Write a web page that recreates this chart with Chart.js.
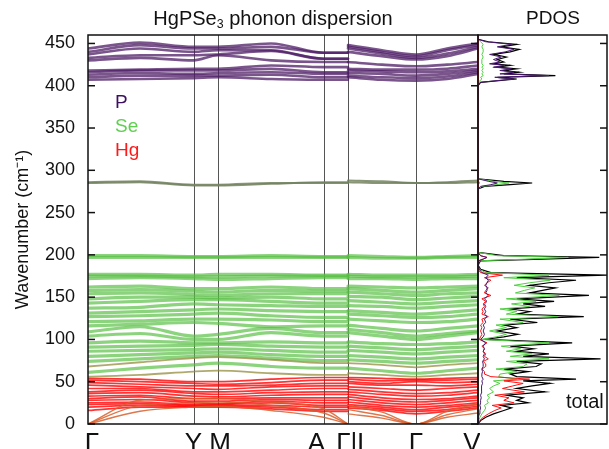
<!DOCTYPE html>
<html><head><meta charset="utf-8">
<script src="https://cdn.jsdelivr.net/npm/chart.js@4.4.1/dist/chart.umd.min.js"></script>
<style>
html,body{margin:0;padding:0;background:#fff;overflow:hidden;width:609px;height:449px;}
#c1{position:absolute;left:0;top:0;}
#c2{position:absolute;left:470px;top:0;}
.t{position:absolute;font-family:"Liberation Sans",Arial,sans-serif;white-space:nowrap;line-height:1;color:#111;}
.t sub{font-size:62%;vertical-align:-0.25em;line-height:0;}
</style></head><body>
<canvas id="c1" width="480" height="449"></canvas>
<canvas id="c2" width="139" height="449"></canvas>
<div class="t" style="left:273px;top:8px;font-size:20px;transform:translateX(-50%);">HgPSe<sub>3</sub> phonon dispersion</div>
<div class="t" style="left:553px;top:8px;font-size:19px;transform:translateX(-50%);">PDOS</div>
<div class="t" style="left:115px;top:92px;font-size:19px;color:#3d1060;">P</div>
<div class="t" style="left:115px;top:116px;font-size:19px;color:#5fcf50;">Se</div>
<div class="t" style="left:115px;top:140px;font-size:19px;color:#ff1a1a;">Hg</div>
<div class="t" style="left:566px;top:391px;font-size:20px;">total</div>
<script>
const FONT = '"Liberation Sans", Arial, sans-serif';
// high-symmetry path
const kPos = [0, 105.5, 130, 235.5, 260, 328, 390];
const kLabels = ['Γ', 'Y', 'M', 'A', 'Γ|L', 'Γ', 'V'];
const kLeft = [0, 52, 105.5, 130, 183, 235.5, 260];
const kRight = [260, 294, 328, 359, 390];
const yTicks = [0, 50, 100, 150, 200, 250, 300, 350, 400, 450];

// bands: 7 values on Γ-Y-M-A-Γ, then 5 values on L-Γ-V (cm^-1)
const bandsP = [
  [444,451,446,446,450,439,439, 448,442,437,444,450],
  [440,448,444,444,446,439,439, 446,440,435,442,448],
  [437,444,440,442,442,432,432, 444,438,433,438,446],
  [433,436,436,437,441,432,432, 440,435,431,435,444],
  [430,433,430,436,430,428,428, 428,425,423,425,428],
  [418,419,420,420,424,422,422, 420,419,419,420,424],
  [416,418,418,418,420,416,416, 418,417,416,417,420],
  [413,415,414,415,416,414,414, 415,414,412,414,418],
  [410,412,412,412,413,410,410, 412,410,409,411,416],
  [407,408,409,410,408,407,407, 410,407,406,408,414]
];
const bandsMix = [
  [285,286,282,282,284,286,286, 288,287,285,286,288],
  [286,287,283,283,285,285,285, 286,285,285,285,286]
];
const bandsSe = [
  [199,199,198,198,199,198,198, 199,198,197,198,199],
  [197,197,197,197,197,197,197, 197,196,196,197,197],
  [177,177,176,177,177,176,176, 177,176,176,176,177],
  [175,175,174,174,175,175,175, 175,174,174,174,175],
  [172,173,172,171,172,173,173, 172,172,171,172,172],
  [162,163,160,160,162,160,160, 163,162,161,162,163],
  [158,159,157,156,158,157,157, 160,158,156,158,160],
  [154,155,153,152,154,154,154, 156,154,152,154,155],
  [148,150,150,149,150,148,148, 151,150,147,149,151],
  [143,145,147,147,145,143,143, 146,144,142,144,146],
  [137,138,142,141,140,139,139, 140,139,137,139,141],
  [131,133,135,136,134,133,133, 134,132,130,132,135],
  [127,128,130,131,128,126,126, 130,128,126,127,130],
  [121,122,124,124,123,121,121, 124,122,120,121,124],
  [116,118,120,119,115,116,116, 117,113,110,113,116],
  [109,115,104,106,113,108,108, 112,108,104,107,110],
  [104,107,100,100,108,104,104, 108,104,100,104,108],
  [96,98,96,96,97,96,96, 97,95,94,95,97],
  [91,92,93,94,92,91,91, 92,90,88,90,92],
  [86,87,88,89,87,85,85, 87,85,83,85,87],
  [80,82,84,85,82,80,80, 81,79,77,79,81],
  [74,77,80,81,78,75,75, 76,74,72,74,76],
  [61,66,70,72,68,66,66, 66,63,60,63,66]
];
const bandsOlive = [
  [68,73,78,79,76,72,72, 72,70,67,70,72],
  [56,58,62,63,60,58,58, 60,58,56,58,60]
];
const bandsHg = [
  [54,53,50,50,53,55,55, 55,54,53,54,55],
  [52,50,48,47,49,52,52, 53,51,52,52,53],
  [49,47,45,45,46,48,48, 50,48,50,49,50],
  [46,44,42,41,44,45,45, 48,46,46,45,47],
  [42,42,38,38,40,42,42, 44,42,40,42,44],
  [38,40,36,35,37,38,38, 41,38,36,37,40],
  [36,37,33,32,34,35,35, 38,35,33,34,37],
  [33,34,30,30,31,31,31, 35,31,29,30,33],
  [30,32,27,27,29,28,28, 32,28,26,28,31],
  [28,29,25,24,27,25,25, 29,25,23,25,28],
  [25,26,23,23,25,22,22, 26,22,20,22,25],
  [23,24,22,22,22,20,20, 23,20,17,20,23],
  [20,22,21,21,20,17,17, 21,18,15,17,21],
  [16,20,20,20,18,15,15, 19,16,12,15,19]
];
const bandsAcoustic = [
  [0,28,30,30,26,18,0, 22,14,0,15,24],
  [0,22,25,26,22,13,0, 17,10,0,11,18],
  [0,15,20,21,16,8,0, 12,7,0,8,13]
];

// PDOS (arb. units) on frequency grid (cm^-1)
const dosFreq = [0,4,8,12,16,19,22,25,28,31,34,38,42,45,48,51,53,56,59,62,65,68,71,74,77,80,83,86,89,92,96,100,103,106,110,114,117,120,124,127,130,133,136,139,142,145,148,152,155,158,161,164,167,170,173,176,179,183,188,193,195,197,199,203,210,278,281,283,285,287,290,300,400,404,408,410,412,414,416,418,420,422,424,426,428,431,434,437,440,443,446,449,452,455,460];
const dosTotal = [0,0.02,0.06,0.12,0.20,0.26,0.18,0.39,0.30,0.35,0.22,0.52,0.30,0.42,0.56,0.35,0.76,0.30,0.25,0.39,0.20,0.45,0.49,0.30,0.95,0.35,0.55,0.30,0.43,0.25,0.73,0.05,0.20,0.31,0.15,0.30,0.20,0.46,0.25,0.82,0.30,0.40,0.25,0.52,0.35,0.59,0.30,0.86,0.40,0.50,0.60,0.40,0.55,0.76,0.30,1.00,0.10,0.02,0,0.02,0.50,0.94,0.20,0,0,0,0.05,0.25,0.42,0.20,0,0,0,0.02,0.30,0.15,0.60,0.20,0.32,0.20,0.30,0.15,0.25,0.12,0.20,0.15,0.22,0.12,0.25,0.32,0.18,0.30,0.08,0,0];
const dosP = [0,0.002,0.005,0.01,0.015,0.02,0.015,0.02,0.02,0.025,0.02,0.03,0.025,0.03,0.035,0.03,0.04,0.03,0.03,0.035,0.03,0.04,0.04,0.035,0.05,0.04,0.05,0.04,0.05,0.04,0.06,0.02,0.04,0.05,0.04,0.05,0.04,0.06,0.05,0.07,0.05,0.06,0.05,0.06,0.05,0.07,0.05,0.08,0.06,0.07,0.07,0.06,0.07,0.08,0.06,0.08,0.03,0.01,0,0.005,0.04,0.07,0.02,0,0,0,0.02,0.10,0.15,0.08,0,0,0,0.018,0.27,0.13,0.55,0.17,0.28,0.17,0.26,0.12,0.21,0.09,0.17,0.12,0.18,0.09,0.21,0.28,0.15,0.26,0.06,0,0];
const dosSe = [0,0.005,0.015,0.03,0.05,0.06,0.05,0.08,0.07,0.09,0.07,0.12,0.09,0.12,0.17,0.12,0.30,0.16,0.17,0.30,0.14,0.35,0.38,0.22,0.55,0.25,0.42,0.22,0.33,0.18,0.55,0.02,0.14,0.22,0.09,0.22,0.14,0.35,0.17,0.62,0.22,0.30,0.17,0.40,0.26,0.45,0.22,0.63,0.29,0.36,0.44,0.28,0.40,0.56,0.20,0.55,0.06,0.01,0,0.01,0.38,0.70,0.15,0,0,0,0.03,0.14,0.24,0.11,0,0,0,0.002,0.03,0.02,0.04,0.03,0.04,0.03,0.04,0.03,0.04,0.03,0.03,0.03,0.04,0.03,0.04,0.04,0.03,0.04,0.02,0,0];
const dosHg = [0,0.013,0.04,0.08,0.13,0.18,0.11,0.28,0.20,0.24,0.13,0.36,0.19,0.27,0.35,0.20,0.40,0.10,0.05,0.05,0.03,0.06,0.06,0.04,0.08,0.05,0.06,0.04,0.05,0.03,0.07,0.01,0.02,0.03,0.02,0.03,0.02,0.04,0.03,0.08,0.03,0.04,0.03,0.05,0.04,0.06,0.03,0.10,0.05,0.06,0.08,0.05,0.07,0.10,0.05,0.19,0.02,0,0,0.005,0.04,0.07,0.02,0,0,0,0.002,0.005,0.01,0.005,0,0,0,0,0.003,0.002,0.005,0.003,0.003,0.002,0.003,0.002,0.003,0.002,0.003,0.002,0.003,0.002,0.003,0.003,0.002,0.003,0.001,0,0];

// ---------- dispersion chart ----------
const ds1 = [];
function addBands(list, color, width) {
  list.forEach(b => {
    const common = {showLine:true, borderColor:color, borderWidth:width, pointRadius:0,
      cubicInterpolationMode:'monotone', fill:false, borderCapStyle:'round'};
    ds1.push(Object.assign({data: kLeft.map((x,i)=>({x, y:b[i]}))}, common));
    ds1.push(Object.assign({data: kRight.map((x,i)=>({x, y:b[7+i]}))}, common));
  });
}
addBands(bandsP, 'rgba(78,28,102,0.75)', 2.6);
addBands(bandsMix, 'rgba(115,130,95,0.85)', 2);
addBands(bandsAcoustic, 'rgba(215,95,45,0.85)', 1.4);
addBands(bandsHg, 'rgba(255,0,0,0.8)', 1.7);
addBands(bandsOlive, 'rgba(150,140,60,0.75)', 1.8);
addBands(bandsSe, 'rgba(85,190,65,0.68)', 3.2);

const labelShift = [4, 0, 2, -7, 6, 0, -6];
const framePlugin = {
  id:'frame',
  beforeDatasetsDraw(chart) {
    const {ctx, chartArea:a, scales:{x}} = chart;
    ctx.save();
    ctx.strokeStyle = '#555'; ctx.lineWidth = 1;
    for (let i = 1; i < kPos.length - 1; i++) {
      const px = Math.round(x.getPixelForValue(kPos[i])) + 0.5;
      ctx.beginPath(); ctx.moveTo(px, a.top); ctx.lineTo(px, a.bottom); ctx.stroke();
    }
    ctx.restore();
  },
  afterDraw(chart) {
    const {ctx, chartArea:a, scales:{x, y}} = chart;
    ctx.save();
    ctx.strokeStyle = '#111'; ctx.lineWidth = 1.5;
    ctx.strokeRect(a.left, a.top, a.right - a.left, a.bottom - a.top);
    yTicks.forEach(v => {
      const py = y.getPixelForValue(v);
      ctx.beginPath(); ctx.moveTo(a.left, py); ctx.lineTo(a.left + 7, py); ctx.stroke();
      ctx.beginPath(); ctx.moveTo(a.right, py); ctx.lineTo(a.right - 7, py); ctx.stroke();
    });
    ctx.fillStyle = '#111';
    ctx.font = '26px ' + FONT;
    ctx.textAlign = 'center'; ctx.textBaseline = 'alphabetic';
    kPos.forEach((v, i) => {
      ctx.fillText(kLabels[i], x.getPixelForValue(v) + labelShift[i], 451);
    });
    ctx.restore();
  }
};

new Chart(document.getElementById('c1'), {
  type:'scatter',
  data:{datasets: ds1},
  options:{
    responsive:false, animation:false,
    layout:{padding:{top:35, right:2, left:0, bottom:0}},
    plugins:{legend:{display:false}, tooltip:{enabled:false}},
    scales:{
      x:{type:'linear', min:0, max:390,
        afterBuildTicks:s => { s.ticks = kPos.map(v => ({value:v})); },
        afterFit:s => { s.height = 25; },
        ticks:{display:false}, grid:{display:false, drawTicks:false}, border:{display:false}},
      y:{type:'linear', min:0, max:460,
        afterBuildTicks:s => { s.ticks = yTicks.map(v => ({value:v})); },
        afterFit:s => { s.width = 88; },
        ticks:{font:{size:18, family:FONT}, color:'#111', padding:13},
        grid:{display:false, drawTicks:false}, border:{display:false},
        title:{display:true, text:'Wavenumber (cm⁻¹)', font:{size:18, family:FONT}, color:'#111', padding:{top:12, bottom:0}}}
    }
  },
  plugins:[framePlugin]
});

// ---------- PDOS chart ----------
function dosData(vals) { return dosFreq.map((f,i) => ({x: vals[i], y: f})); }
const ds2 = [
  {data: dosData(dosP), borderColor:'#4a1870', borderWidth:1},
  {data: dosData(dosHg), borderColor:'#ff1010', borderWidth:1},
  {data: dosData(dosSe), borderColor:'#4fd040', borderWidth:1},
  {data: dosData(dosTotal), borderColor:'#000', borderWidth:1.2}
].map(d => Object.assign(d, {showLine:true, pointRadius:0, tension:0, fill:false}));

const dosFrame = {
  id:'dosFrame',
  afterDraw(chart) {
    const {ctx, chartArea:a, scales:{y}} = chart;
    ctx.save();
    ctx.strokeStyle = '#111'; ctx.lineWidth = 1.5;
    ctx.strokeRect(a.left, a.top, a.right - a.left, a.bottom - a.top);
    yTicks.forEach(v => {
      const py = y.getPixelForValue(v);
      ctx.beginPath(); ctx.moveTo(a.right, py); ctx.lineTo(a.right - 7, py); ctx.stroke();
    });
    ctx.restore();
  }
};

new Chart(document.getElementById('c2'), {
  type:'scatter',
  data:{datasets: ds2},
  options:{
    responsive:false, animation:false,
    layout:{padding:{top:35, right:2, left:8, bottom:25}},
    plugins:{legend:{display:false}, tooltip:{enabled:false}},
    scales:{
      x:{type:'linear', min:0, max:1, display:false},
      y:{type:'linear', min:0, max:460, display:false}
    }
  },
  plugins:[dosFrame]
});
</script>
</body></html>
